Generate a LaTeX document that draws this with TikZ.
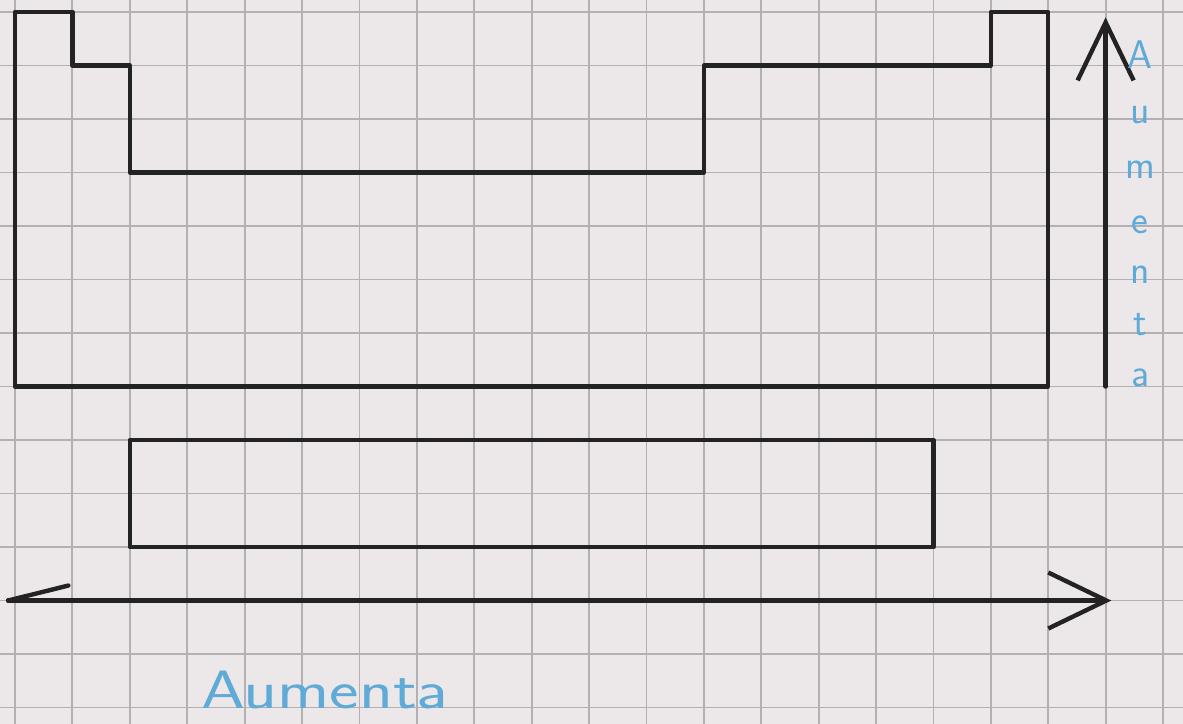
\documentclass[tikz,border=0pt]{standalone}
\usetikzlibrary{arrows.meta}
\definecolor{papel}{RGB}{236,231,233}
\definecolor{cuadro}{RGB}{178,176,178}
\definecolor{lapiz}{RGB}{35,35,35}
\definecolor{tinta}{RGB}{95,170,215}
\tikzset{
  trazo/.style={lapiz, line width=2.2pt, line join=round, line cap=round},
  flecha/.style={trazo, -{Straight Barb[length=29pt, width=28pt]}},
  letra/.style={tinta, font=\sffamily\fontsize{20}{20}\selectfont},
}
\begin{document}
\begin{tikzpicture}[x=28.7pt, y=-26.75pt]
  \fill[papel] (-0.2613,-0.2243) rectangle (20.348,13.308);
  \useasboundingbox (-0.2613,-0.2243) rectangle (20.348,13.308);
  % cuadricula
  \foreach \i in {0,...,20} \draw[cuadro, line width=0.9pt] (\i,-0.2243) -- (\i,13.308);
  \foreach \j in {0,...,13} \draw[cuadro, line width=0.9pt] (-0.2613,\j) -- (20.348,\j);
  % tabla
  \draw[trazo] (0,0) -- (1,0) -- (1,1) -- (2,1) -- (2,3) -- (12,3) -- (12,1) -- (17,1)
    -- (17,0) -- (18,0) -- (18,7) -- (0,7) -- cycle;
  \draw[trazo] (2,8) rectangle (16,10);
  % flechas
  \coordinate (hizq) at (-0.12,11);
  \coordinate (hder) at (19.1,11);
  \coordinate (vabajo) at (19,7);
  \coordinate (varriba) at (19,0.1);
  \draw[flecha] (hizq) -- (hder);
  \draw[trazo] (hizq) -- ++(1.05,-0.28);
  \draw[flecha] (vabajo) -- (varriba);
  % textos
  \foreach \l/\y [count=\k] in {A/0.8, u/1.93, m/2.95, e/3.98, n/4.92, t/5.85, a/6.84}
    \node[letra] (letra\k) at (19.6,\y) {\l};
  \node[tinta, font=\sffamily\fontsize{27}{27}\selectfont, xscale=1.3] (etiqueta) at (5.4,12.67) {Aumenta};
\end{tikzpicture}
\end{document}
